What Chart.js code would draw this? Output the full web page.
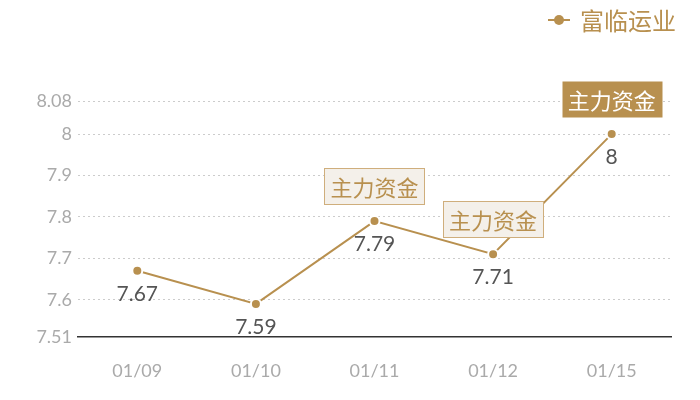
<!DOCTYPE html>
<html>
<head>
<meta charset="utf-8">
<script src="https://cdn.jsdelivr.net/npm/chart.js@4/dist/chart.umd.min.js"></script>
<style>
  html, body { margin: 0; padding: 0; background: #fff; }
</style>
</head>
<body>
<canvas id="chart" width="700" height="400"></canvas>
<script>
const categories = ['01/09', '01/10', '01/11', '01/12', '01/15'];
const seriesName = '富临运业';
const prices = [7.67, 7.59, 7.79, 7.71, 8];
const yTicks = [7.51, 7.6, 7.7, 7.8, 7.9, 8, 8.08];
// flag text per point, and whether it is the highlighted (dark) one
const flags = [null, null, '主力资金', '主力资金', '主力资金'];
const flagDark = [false, false, false, false, true];

const GOLD = '#b8904f';
const NUM_FONT = 'Lato, "Noto Sans CJK SC", sans-serif';
const CJK_FONT = '"Noto Sans CJK SC", sans-serif';

const labelsPlugin = {
    id: 'labelsAndFlags',
    afterDatasetsDraw(chart) {
        const ctx = chart.ctx;
        const meta = chart.getDatasetMeta(0);
        ctx.save();
        meta.data.forEach((pt, i) => {
            // value under the point
            ctx.font = '21px ' + NUM_FONT;
            ctx.fillStyle = '#555';
            ctx.textAlign = 'center';
            ctx.textBaseline = 'middle';
            ctx.fillText(String(prices[i]), pt.x, pt.y + 23);

            if (!flags[i]) return;
            ctx.font = '22px ' + CJK_FONT;
            const w = ctx.measureText(flags[i]).width + 12;
            const h = 36;
            const x = Math.round(pt.x - w / 2) + 0.5;
            const y = Math.round(pt.y - 17 - h) + 0.5;
            if (flagDark[i]) {
                ctx.fillStyle = GOLD;
                ctx.fillRect(x, y, w, h);
                ctx.fillStyle = '#fff';
            } else {
                ctx.fillStyle = '#f4f0ea';
                ctx.fillRect(x, y, w, h);
                ctx.strokeStyle = '#cfae7c';
                ctx.lineWidth = 1;
                ctx.strokeRect(x, y, w, h);
                ctx.fillStyle = GOLD;
            }
            ctx.fillText(flags[i], pt.x, y + h / 2 + 1);
        });

        // legend, top right
        const tx = 580;
        const ty = 20;
        ctx.strokeStyle = GOLD;
        ctx.lineWidth = 2;
        ctx.beginPath();
        ctx.moveTo(548, ty);
        ctx.lineTo(570, ty);
        ctx.stroke();
        ctx.fillStyle = GOLD;
        ctx.beginPath();
        ctx.arc(559, ty, 5, 0, Math.PI * 2);
        ctx.fill();
        ctx.font = '24px ' + CJK_FONT;
        ctx.textAlign = 'left';
        ctx.textBaseline = 'middle';
        ctx.fillText(seriesName, tx, ty + 1);
        ctx.restore();
    }
};

new Chart(document.getElementById('chart'), {
    type: 'line',
    data: {
        labels: categories,
        datasets: [{
            label: seriesName,
            data: prices,
            borderColor: GOLD,
            borderWidth: 2,
            backgroundColor: GOLD,
            pointRadius: 5,
            pointBorderColor: '#fff',
            pointBorderWidth: 2,
            pointBackgroundColor: GOLD,
            tension: 0
        }]
    },
    options: {
        responsive: false,
        animation: false,
        layout: {
            padding: { top: 101, right: 29, left: 0, bottom: 0 }
        },
        plugins: {
            legend: { display: false },
            tooltip: { enabled: false }
        },
        scales: {
            x: {
                offset: true,
                grid: { display: false, drawTicks: false },
                border: { display: true, color: '#333', width: 1.5 },
                ticks: {
                    color: '#aaa',
                    font: { size: 18, family: NUM_FONT },
                    padding: 23
                },
                afterFit(scale) { scale.height = 63; }
            },
            y: {
                min: 7.51,
                max: 8.08,
                afterBuildTicks(scale) {
                    scale.ticks = yTicks.map(v => ({ value: v }));
                },
                grid: {
                    drawTicks: false,
                    color: ctx => ctx.tick && ctx.tick.value === 7.51 ? 'rgba(0,0,0,0)' : '#ccc',
                    lineWidth: 1
                },
                border: { display: false, dash: [2, 3] },
                ticks: {
                    color: '#aaa',
                    font: { size: 18, family: NUM_FONT },
                    padding: 6,
                    callback: v => String(v)
                },
                afterFit(scale) { scale.width = 78; }
            }
        }
    },
    plugins: [labelsPlugin]
});
</script>
</body>
</html>
